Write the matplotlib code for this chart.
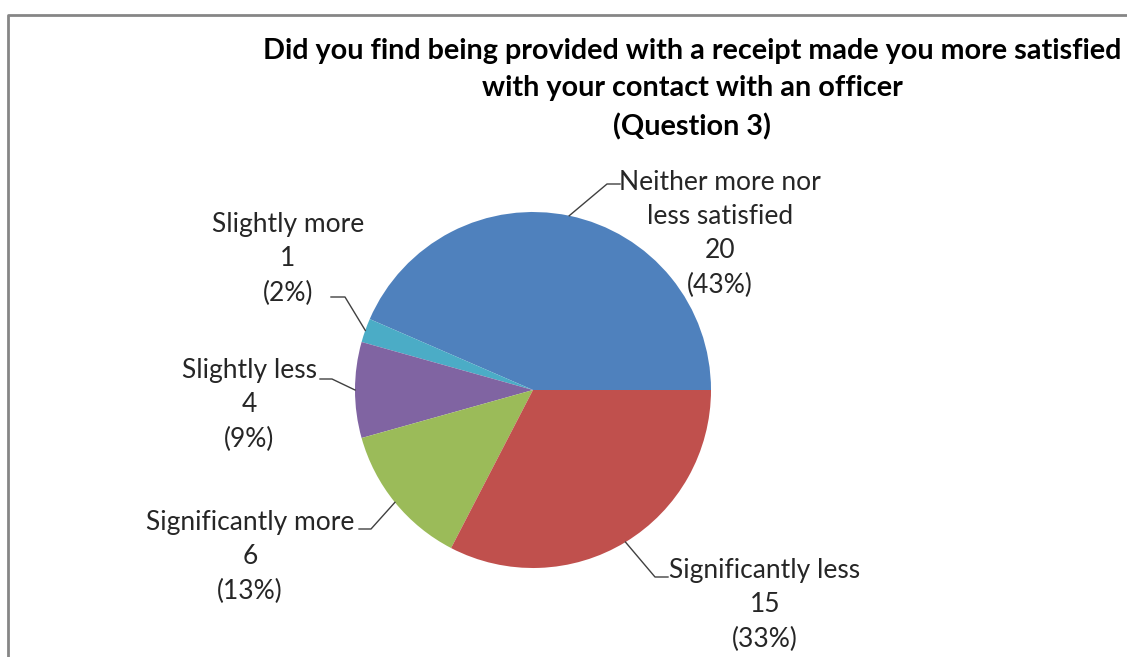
import numpy as np
import matplotlib
matplotlib.use("Agg")
import matplotlib.pyplot as plt

# survey answers, question 3
categories = ["Neither more nor\nless satisfied", "Slightly more", "Slightly less",
              "Significantly more", "Significantly less"]
counts = [20, 1, 4, 6, 15]
colors = ["#4F81BD", "#4BACC6", "#8064A2", "#9BBB59", "#C0504D"]

title = ("Did you find being provided with a receipt made you more satisfied\n"
         "with your contact with an officer\n(Question 3)")

W, H = 1127, 657
# label layout in pixel coords (x centre, y centre), elbow point, end of leader
label_pos = [(720, 234), (288, 259), (249, 405), (250, 557), (765, 605)]
elbows = [((607, 184), (620, 184)), ((345, 297), (331, 297)), ((332, 379), (320, 379)),
          ((371, 529), (359, 529)), ((655, 577), (668, 577))]

plt.rcParams['font.family'] = ['Lato', 'DejaVu Sans']

def py(y):
    return H - y

fig = plt.figure(figsize=(W / 100, H / 100), dpi=100)
ax = fig.add_axes([0, 0, 1, 1])

cx, cy, r = 533, py(390), 178
wedges, _ = ax.pie(counts, colors=colors, startangle=0, counterclock=True,
                   center=(cx, cy), radius=r, frame=True,
                   wedgeprops=dict(linewidth=0))
ax.set_xlim(0, W)
ax.set_ylim(0, H)
ax.axis('off')

total = sum(counts)
for w, cat, n, (lx, ly), (e1, e2) in zip(wedges, categories, counts, label_pos, elbows):
    mid = np.deg2rad((w.theta1 + w.theta2) / 2)
    ex, ey = cx + r * np.cos(mid), cy + r * np.sin(mid)
    ax.plot([ex, e1[0], e2[0]], [ey, py(e1[1]), py(e2[1])], color="#404040", lw=1)
    pct = round(100 * n / total)
    ax.text(lx, py(ly), f"{cat}\n{n}\n({pct}%)", ha='center', va='center',
            fontsize=19, color="#262626", linespacing=1.45)

ax.text(692, py(89), title, ha='center', va='center', fontsize=20.7,
        fontweight='bold', color="black", linespacing=1.53)

# chart area border (cropped on the right and bottom)
ax.plot([8, 8, W + 10], [py(H + 10), py(15), py(15)], color="#868686", lw=2,
        clip_on=False)

fig.savefig("out.png", dpi=100)
